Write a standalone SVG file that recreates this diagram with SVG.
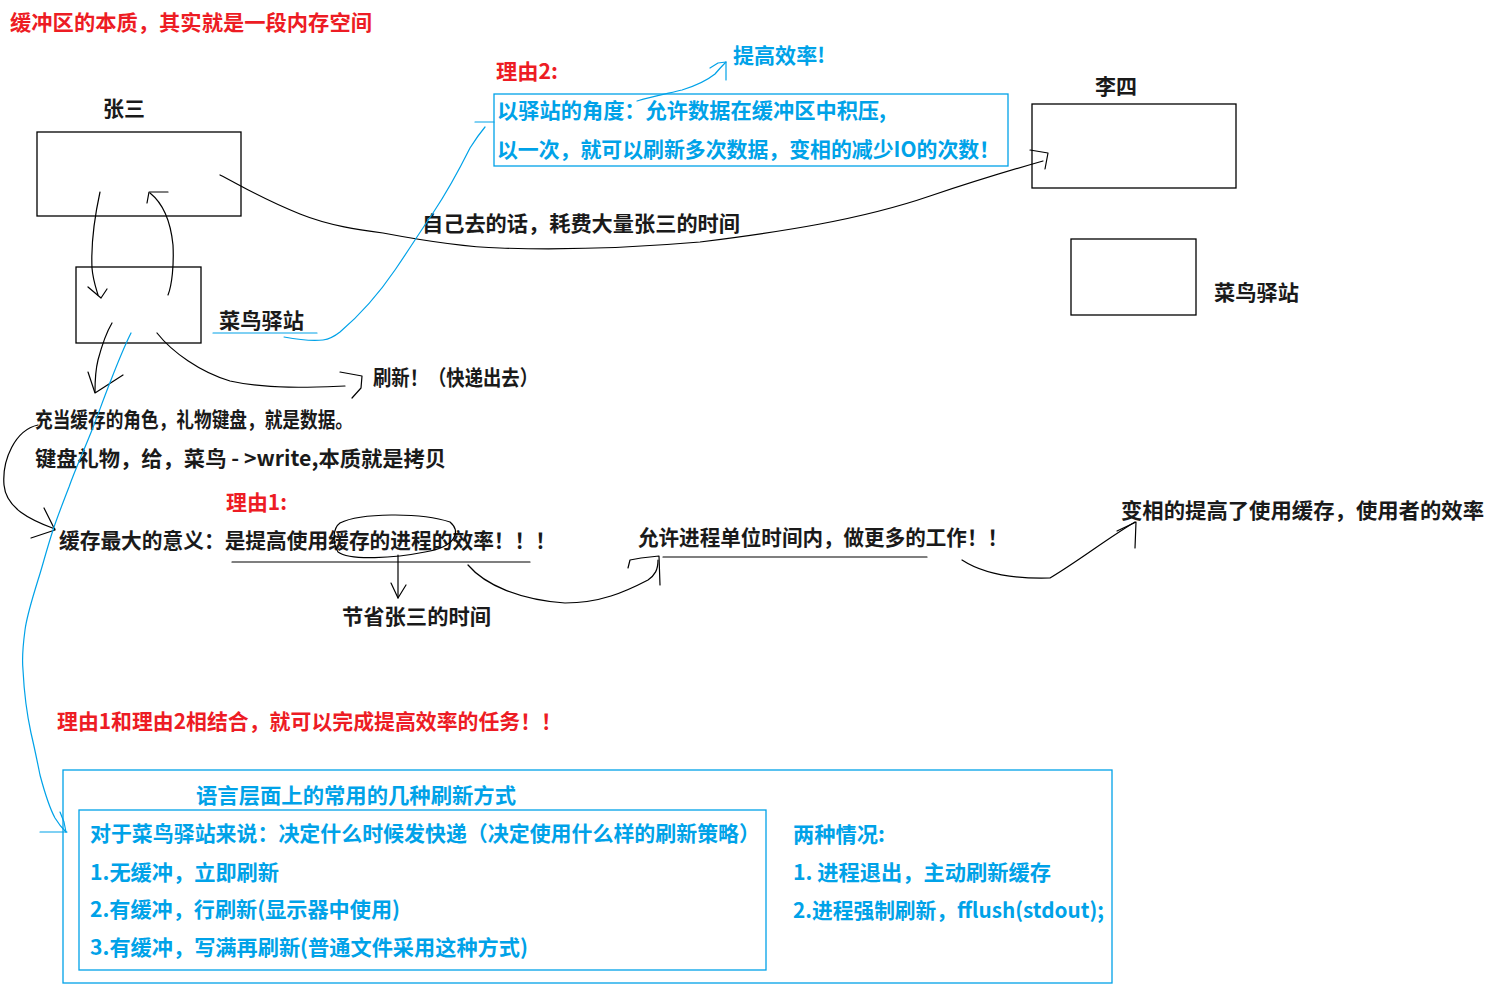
<svg xmlns="http://www.w3.org/2000/svg" width="1494" height="991" viewBox="0 0 1494 991">
<style>
text{font-family:"Noto Sans CJK SC","Liberation Sans",sans-serif;font-weight:bold;font-size:21px}
.k{fill:#1a1a1a}
.r{fill:#ed1c24}
.b{fill:#00a2e8}
.box{fill:none;stroke:#000;stroke-width:1.3}
.bbox{fill:none;stroke:#00a2e8;stroke-width:1.3}
.ink{fill:none;stroke:#000;stroke-width:1.2;stroke-linecap:round;stroke-linejoin:round}
.bink{fill:none;stroke:#00a2e8;stroke-width:1.2;stroke-linecap:round;stroke-linejoin:round}
</style>
<rect width="1494" height="991" fill="#fff"/>
<text class="r" x="10" y="30" textLength="362" lengthAdjust="spacingAndGlyphs">缓冲区的本质，其实就是一段内存空间</text>

<g id="zhangsan">
<rect class="box" x="37" y="132" width="204" height="84"/>
<text class="k" x="103" y="116" textLength="42" lengthAdjust="spacingAndGlyphs">张三</text>
</g>
<g id="cainiao-left">
<rect class="box" x="76" y="267" width="125" height="76"/>
<text class="k" x="219" y="328" textLength="85" lengthAdjust="spacingAndGlyphs">菜鸟驿站</text>
</g>
<g id="lisi">
<rect class="box" x="1032" y="104" width="204" height="84"/>
<text class="k" x="1095" y="94" textLength="42" lengthAdjust="spacingAndGlyphs">李四</text>
</g>
<g id="cainiao-right">
<rect class="box" x="1071" y="239" width="125" height="76"/>
<text class="k" x="1214" y="300" textLength="85" lengthAdjust="spacingAndGlyphs">菜鸟驿站</text>
</g>
<g id="reason2">
<text class="r" x="496" y="79" textLength="62" lengthAdjust="spacingAndGlyphs">理由2:</text>
<rect class="bbox" x="494" y="94" width="514" height="72"/>
<text class="b" x="497" y="118" textLength="389" lengthAdjust="spacingAndGlyphs">以驿站的角度：允许数据在缓冲区中积压,</text>
<text class="b" x="497" y="157" textLength="503" lengthAdjust="spacingAndGlyphs">以一次，就可以刷新多次数据，变相的减少IO的次数！</text>
</g>
<g id="efficiency">
<text class="b" x="733" y="63" textLength="92" lengthAdjust="spacingAndGlyphs">提高效率!</text>
</g>
<g id="self-go">
<text class="k" x="422" y="231" textLength="318" lengthAdjust="spacingAndGlyphs">自己去的话，耗费大量张三的时间</text>
</g>
<g id="refresh">
<text class="k" x="373" y="385" textLength="165" lengthAdjust="spacingAndGlyphs">刷新！（快递出去）</text>
</g>
<g id="cache-role">
<text class="k" x="35" y="427" textLength="318" lengthAdjust="spacingAndGlyphs">充当缓存的角色，礼物键盘，就是数据。</text>
<text class="k" x="35" y="466" textLength="411" lengthAdjust="spacingAndGlyphs">键盘礼物，给，菜鸟 - &gt;write,本质就是拷贝</text>
</g>
<g id="reason1">
<text class="r" x="226" y="510" textLength="61" lengthAdjust="spacingAndGlyphs">理由1:</text>
<text class="k" x="59" y="548" textLength="497" lengthAdjust="spacingAndGlyphs">缓存最大的意义：是提高使用缓存的进程的效率！！！</text>
</g>
<g id="save-time">
<text class="k" x="342" y="624" textLength="149" lengthAdjust="spacingAndGlyphs">节省张三的时间</text>
</g>
<g id="more-work">
<text class="k" x="638" y="545" textLength="370" lengthAdjust="spacingAndGlyphs">允许进程单位时间内，做更多的工作！！</text>
</g>
<g id="user-eff">
<text class="k" x="1121" y="518" textLength="363" lengthAdjust="spacingAndGlyphs">变相的提高了使用缓存，使用者的效率</text>
</g>
<g id="combine">
<text class="r" x="57" y="729" textLength="505" lengthAdjust="spacingAndGlyphs">理由1和理由2相结合，就可以完成提高效率的任务！！</text>
</g>
<g id="flush-modes">
<rect class="bbox" x="63" y="770" width="1049" height="213"/>
<text class="b" x="196" y="803" textLength="320" lengthAdjust="spacingAndGlyphs">语言层面上的常用的几种刷新方式</text>
<rect class="bbox" x="79" y="810" width="687" height="160"/>
<text class="b" x="90" y="841" textLength="670" lengthAdjust="spacingAndGlyphs">对于菜鸟驿站来说：决定什么时候发快递（决定使用什么样的刷新策略）</text>
<text class="b" x="90" y="880" textLength="189" lengthAdjust="spacingAndGlyphs">1.无缓冲，立即刷新</text>
<text class="b" x="90" y="917" textLength="310" lengthAdjust="spacingAndGlyphs">2.有缓冲，行刷新(显示器中使用)</text>
<text class="b" x="90" y="955" textLength="438" lengthAdjust="spacingAndGlyphs">3.有缓冲，写满再刷新(普通文件采用这种方式)</text>
<text class="b" x="793" y="842" textLength="92" lengthAdjust="spacingAndGlyphs">两种情况:</text>
<text class="b" x="793" y="880" textLength="258" lengthAdjust="spacingAndGlyphs">1. 进程退出，主动刷新缓存</text>
<text class="b" x="793" y="918" textLength="311" lengthAdjust="spacingAndGlyphs">2.进程强制刷新，fflush(stdout);</text>
</g>

<g id="connectors">
<path class="ink" d="M100,192 C95,215 91,245 92,268 C93,280 96,288 98,295"/>
<path class="ink" d="M88,287 L101,298 L107,289"/>
<path class="ink" d="M168,295 C172,285 174,265 173,245 C171,225 165,205 150,193"/>
<path class="ink" d="M168,192 L149,192 L147,203"/>
<path class="ink" d="M220,175 C240,185 260,198 300,214 C330,226 360,230 383,233 C420,240 460,247 500,248 C560,250 630,248 700,242 C780,232 860,220 930,196 C960,186 990,176 1043,161"/>
<path class="ink" d="M1030,150 L1048,153 L1045,169"/>
<path class="ink" d="M112,323 C106,333 102,345 98,360 C95,372 95,383 95,392"/>
<path class="ink" d="M88,372 L95,393 L123,375"/>
<path class="ink" d="M157,333 C172,352 200,372 230,381 C270,390 320,387 345,386"/>
<path class="ink" d="M340,372 L362,376 L361,388 L352,398"/>
<path class="ink" d="M38,425 C15,430 2,460 4,485 C6,508 30,520 55,529"/>
<path class="ink" d="M44,508 L55,530 L31,538"/>
<path class="ink" d="M340,523 C360,513 420,512 450,522 C462,532 455,547 425,552 C395,558 350,561 338,552 C332,542 333,528 340,523"/>
<path class="ink" d="M398,555 L398,598"/>
<path class="ink" d="M391,583 L398,598 L406,585"/>
<path class="ink" d="M232,562 L530,562"/>
<path class="ink" d="M663,557 L927,557"/>
<path class="ink" d="M468,565 C485,585 520,600 565,603 C600,603 625,592 648,580 C655,575 658,570 658,560"/>
<path class="ink" d="M628,568 L630,560 L641,558 L659,556 L660,585"/>
<path class="ink" d="M962,560 C985,575 1015,579 1050,578 C1080,560 1105,540 1135,522"/>
<path class="ink" d="M1117,531 L1136,522 L1135,548"/>
<path class="bink" d="M213,333 L317,333"/>
<path class="bink" d="M284,337 C300,340 315,341 323,340 C330,339 335,336 340,332 C360,315 380,292 395,270 C410,248 420,232 433,213 C445,195 460,168 470,148 C475,140 480,133 485,127"/>
<path class="bink" d="M475,122 L494,122"/>
<path class="bink" d="M637,101 C655,96 670,93 682,90 C695,86 705,82 715,74 C720,68 724,64 726,62"/>
<path class="bink" d="M710,68 L718,63 L726,62 L726,80"/>
<path class="bink" d="M131,333 C125,345 118,362 111,380 C103,400 98,415 92,430 C82,455 75,470 69,487 C62,505 57,518 53,530 C45,555 42,568 38,580 C32,600 27,615 25,630 C23,645 22,660 23,670 C24,690 26,710 31,733 C35,750 37,760 40,775 C44,790 48,805 55,818 C58,823 62,828 66,832"/>
<path class="bink" d="M40,832 L67,832"/>
<path class="bink" d="M60,812 L64,822 L66,832"/>
</g>
</svg>
